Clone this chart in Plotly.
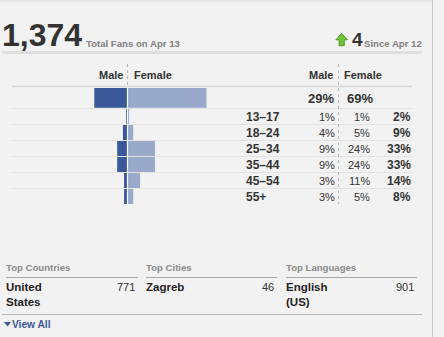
import plotly.graph_objects as go

# ---------------- data ----------------
age_groups = ["13–17", "18–24", "25–34", "35–44", "45–54", "55+"]
male_pct = [1, 4, 9, 9, 3, 3]
female_pct = [1, 5, 24, 24, 11, 5]
total_pct = [2, 9, 33, 33, 14, 8]
male_total = 29
female_total = 69

total_fans = "1,374"
total_fans_label = "Total Fans on Apr 13"
change_value = "4"
change_label = "Since Apr 12"

top_headers = ["Top Countries", "Top Cities", "Top Languages"]
top_items = ["United<br>States", "Zagreb", "English<br>(US)"]
top_counts = [771, 46, 901]

W, H = 444, 337
FONT = "Liberation Sans, Arial, Helvetica, sans-serif"
MALE_C = "#3b5998"
FEMALE_C = "#98a9ca"
DARK = "#333333"
GREY = "#808080"


def P(x):
    return x / W


def Q(y):
    return 1 - y / H


fig = go.Figure()

# pyramid: age rows
fig.add_trace(go.Bar(y=age_groups, x=[-v for v in male_pct], orientation="h",
                     marker=dict(color=MALE_C, line=dict(width=0)),
                     xaxis="x", yaxis="y", showlegend=False, hoverinfo="skip"))
fig.add_trace(go.Bar(y=age_groups, x=female_pct, orientation="h",
                     marker=dict(color=FEMALE_C, line=dict(width=0)),
                     xaxis="x", yaxis="y", showlegend=False, hoverinfo="skip"))
# total row
fig.add_trace(go.Bar(y=["All"], x=[-male_total], orientation="h",
                     marker=dict(color=MALE_C, line=dict(width=0)),
                     xaxis="x", yaxis="y2", showlegend=False, hoverinfo="skip"))
fig.add_trace(go.Bar(y=["All"], x=[female_total], orientation="h",
                     marker=dict(color=FEMALE_C, line=dict(width=0)),
                     xaxis="x", yaxis="y2", showlegend=False, hoverinfo="skip"))

CX = 127.5
SC = 1.145
xr = [-30, 70]
shapes = []
ann = []


def line(x0, y0, x1, y1, color, width=1, dash=None, layer="above"):
    d = dict(color=color, width=width)
    if dash:
        d["dash"] = dash
    shapes.append(dict(type="line", xref="paper", yref="paper",
                       x0=P(x0), x1=P(x1), y0=Q(y0), y1=Q(y1), line=d, layer=layer))


def text(t, x, y, size, color=DARK, bold=False, anchor="left"):
    ann.append(dict(text=("<b>%s</b>" % t) if bold else t, xref="paper", yref="paper",
                    x=P(x), y=Q(y), xanchor=anchor, yanchor="middle", showarrow=False,
                    align=anchor, borderpad=0,
                    font=dict(family=FONT, size=size, color=color)))


# borders and rules
line(432.5, 0, 432.5, H, "#c9c9c9")
line(0, 1, 432, 1, "#e6e6e6", 2)
line(2, 52.5, 422, 52.5, "#dedede", 3)
line(12, 86.5, 412, 86.5, "#d6d6d6", 1.5, layer="below")
for i in range(len(age_groups)):
    line(12, 108.5 + 16 * i, 412, 108.5 + 16 * i, "#e3e3e3", 1, layer="below")
line(CX, 64, CX, 88, "#b8b8b8", 1, "dot")
line(338.5, 64, 338.5, 204, "#b8b8b8", 1, "dot")
# white gap between male and female bars
shapes.append(dict(type="line", xref="x", yref="paper", x0=0, x1=0, y0=Q(88), y1=Q(205),
                   line=dict(color="white", width=1.2), layer="above"))

# header
text(total_fans, 1, 35, 32, DARK, True)
text(total_fans_label, 85, 43.5, 9.6, GREY, True)
shapes.append(dict(type="path", xref="paper", yref="paper",
                   path="M %f,%f L %f,%f L %f,%f L %f,%f L %f,%f L %f,%f L %f,%f Z" % (
                       P(341.7), Q(33.5), P(347.5), Q(39.8), P(344.3), Q(39.8), P(344.3), Q(45.7),
                       P(339.1), Q(45.7), P(339.1), Q(39.8), P(335.9), Q(39.8)),
                   fillcolor="#72c23a", line=dict(color="#4f9a22", width=1)))
text(change_value, 351, 39.5, 19, DARK, True)
text(change_label, 363, 43.5, 9.6, GREY, True)

# pyramid headers
text("Male", 123.5, 74.5, 11, DARK, True, "right")
text("Female", 132.5, 74.5, 11, DARK, True)
text("Male", 334, 74.5, 11, DARK, True, "right")
text("Female", 342.5, 74.5, 11, DARK, True)

# totals row
text("%d%%" % male_total, 335, 98.5, 13, DARK, True, "right")
text("%d%%" % female_total, 346, 98.5, 13, DARK, True)

for i, g in enumerate(age_groups):
    yc = 117 + 16 * i
    text(g, 245, yc, 12, DARK, True)
    text("%d%%" % male_pct[i], 336, yc, 11, DARK, False, "right")
    text("%d%%" % female_pct[i], 371, yc, 11, DARK, False, "right")
    text("%d%%" % total_pct[i], 412, yc, 12, DARK, True, "right")

# bottom section
cols = [(6, 138), (146, 277), (286, 417)]
for (x0, x1), hdr, item, cnt in zip(cols, top_headers, top_items, top_counts):
    text(hdr, x0 - 1, 267.5, 9.6, "#8a8a8a", True)
    line(x0, 277.5, x1, 277.5, "#a8a8a8", 1)
    ann.append(dict(text="<b>%s</b>" % item, xref="paper", yref="paper", x=P(x0 - 1), y=Q(280),
                    xanchor="left", yanchor="top", showarrow=False, align="left", borderpad=0,
                    font=dict(family=FONT, size=11.5, color="#222222")))
    text(str(cnt), x1 - 2, 287, 11, DARK, False, "right")
line(2, 314.5, 422, 314.5, "#b8b8b8", 1)
shapes.append(dict(type="path", xref="paper", yref="paper",
                   path="M %f,%f L %f,%f L %f,%f Z" % (P(4), Q(322), P(11), Q(322), P(7.5), Q(326.5)),
                   fillcolor=MALE_C, line=dict(width=0)))
text("View All", 11, 324.5, 10.2, MALE_C, True)

fig.update_layout(
    width=W, height=H, margin=dict(l=0, r=0, t=0, b=0),
    paper_bgcolor="#f2f2f2", plot_bgcolor="rgba(0,0,0,0)",
    barmode="relative", bargap=0.06,
    xaxis=dict(domain=[P(CX + SC * xr[0]), P(CX + SC * xr[1])], range=xr, visible=False,
               fixedrange=True),
    yaxis=dict(domain=[Q(204.5), Q(108.5)], type="category", categoryorder="array",
               categoryarray=age_groups, autorange="reversed", visible=False, anchor="x"),
    yaxis2=dict(domain=[Q(108.3), Q(87.4)], type="category", visible=False, anchor="x"),
    shapes=shapes, annotations=ann,
)

fig.write_html("out.html")
